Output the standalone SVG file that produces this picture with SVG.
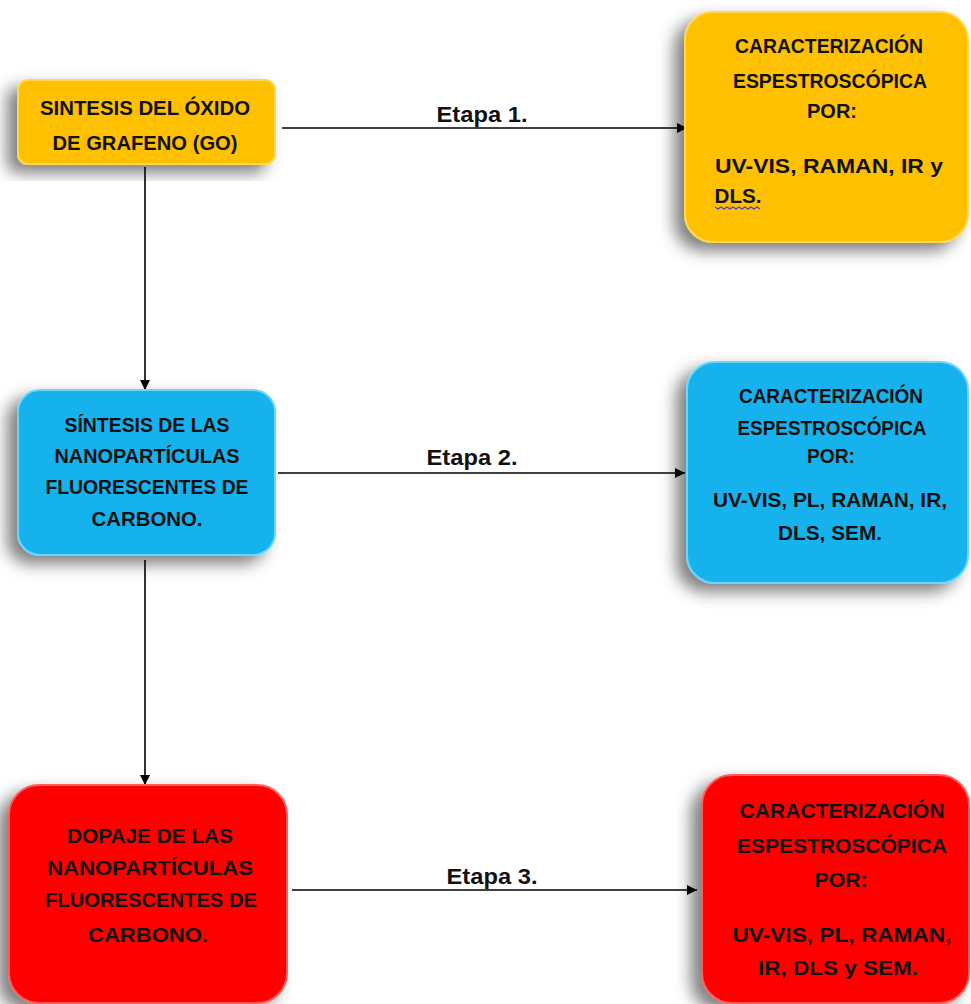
<svg xmlns="http://www.w3.org/2000/svg" width="971" height="1004" viewBox="0 0 971 1004">
<defs>
  <filter id="shadow" x="-20%" y="-20%" width="140%" height="140%">
    <feDropShadow dx="-10" dy="8" stdDeviation="8" flood-color="#000" flood-opacity="0.5"/>
  </filter>
  <marker id="arrow" viewBox="0 0 10 10" refX="10" refY="5" markerWidth="11" markerHeight="10" markerUnits="userSpaceOnUse" orient="auto">
    <path d="M0,0 L10,5 L0,10 Z" fill="#000"/>
  </marker>
  <style>
    .orange { fill: #FFC000; stroke: #FFD84D; stroke-width: 2; }
    .blue { fill: #12B2EE; stroke: #6AD6FF; stroke-width: 2; }
    .red { fill: #FF0000; stroke: #FF5C5C; stroke-width: 2; }
    .lbl { font-family: "Liberation Sans", Arial, sans-serif; font-weight: bold; fill: #111; text-anchor: middle; }
    .n { font-size: 21px; }
    .e { font-size: 22px; }
    .conn { stroke: #000; stroke-width: 1.6; fill: none; }
  </style>
</defs>
<rect width="971" height="1004" fill="#fff"/>

<g id="connectors">
  <line class="conn" x1="282" y1="128" x2="687" y2="128" marker-end="url(#arrow)"/>
  <line class="conn" x1="278" y1="473" x2="685" y2="473" marker-end="url(#arrow)"/>
  <line class="conn" x1="292" y1="890" x2="697" y2="890" marker-end="url(#arrow)"/>
  <line class="conn" x1="145" y1="167" x2="145" y2="390" marker-end="url(#arrow)"/>
  <line class="conn" x1="145" y1="560" x2="145" y2="785" marker-end="url(#arrow)"/>
  <text class="lbl e" x="482" y="122" textLength="91" lengthAdjust="spacingAndGlyphs">Etapa 1.</text>
  <text class="lbl e" x="472" y="465" textLength="91" lengthAdjust="spacingAndGlyphs">Etapa 2.</text>
  <text class="lbl e" x="492" y="884" textLength="91" lengthAdjust="spacingAndGlyphs">Etapa 3.</text>
</g>

<g id="node-sintesis-go">
  <rect class="orange" x="18" y="80" width="257" height="84" rx="10" filter="url(#shadow)"/>
  <text class="lbl n" x="145" y="115" textLength="210" lengthAdjust="spacingAndGlyphs">SINTESIS DEL ÓXIDO</text>
  <text class="lbl n" x="145" y="150" textLength="185" lengthAdjust="spacingAndGlyphs">DE GRAFENO (GO)</text>
</g>

<g id="node-caract-1">
  <rect class="orange" x="685" y="12" width="283" height="230" rx="28" filter="url(#shadow)"/>
  <text class="lbl n" x="829" y="53" textLength="188" lengthAdjust="spacingAndGlyphs">CARACTERIZACIÓN</text>
  <text class="lbl n" x="830" y="88" textLength="194" lengthAdjust="spacingAndGlyphs">ESPESTROSCÓPICA</text>
  <text class="lbl n" x="832" y="118" textLength="50" lengthAdjust="spacingAndGlyphs">POR:</text>
  <text class="lbl n" x="829" y="173" textLength="228" lengthAdjust="spacingAndGlyphs">UV-VIS,  RAMAN,  IR  y</text>
  <text class="lbl n" x="738" y="203" textLength="47" lengthAdjust="spacingAndGlyphs">DLS.</text>
  <path d="M715,207 l3,2 l3,-2 l3,2 l3,-2 l3,2 l3,-2 l3,2 l3,-2 l3,2 l3,-2 l3,2 l3,-2 l3,2 l3,-2 l3,2" fill="none" stroke="#4A3FD0" stroke-width="1.3"/>
</g>

<g id="node-sintesis-np">
  <rect class="blue" x="18" y="390" width="257" height="165" rx="22" filter="url(#shadow)"/>
  <text class="lbl n" x="147" y="432" textLength="165" lengthAdjust="spacingAndGlyphs">SÍNTESIS DE LAS</text>
  <text class="lbl n" x="147" y="463" textLength="185" lengthAdjust="spacingAndGlyphs">NANOPARTÍCULAS</text>
  <text class="lbl n" x="147" y="494" textLength="203" lengthAdjust="spacingAndGlyphs">FLUORESCENTES DE</text>
  <text class="lbl n" x="147" y="526" textLength="111" lengthAdjust="spacingAndGlyphs">CARBONO.</text>
</g>

<g id="node-caract-2">
  <rect class="blue" x="687" y="362" width="281" height="221" rx="28" filter="url(#shadow)"/>
  <text class="lbl n" x="831" y="403" textLength="184" lengthAdjust="spacingAndGlyphs">CARACTERIZACIÓN</text>
  <text class="lbl n" x="832" y="435" textLength="189" lengthAdjust="spacingAndGlyphs">ESPESTROSCÓPICA</text>
  <text class="lbl n" x="831" y="463" textLength="48" lengthAdjust="spacingAndGlyphs">POR:</text>
  <text class="lbl n" x="830" y="507" textLength="234" lengthAdjust="spacingAndGlyphs">UV-VIS, PL, RAMAN, IR,</text>
  <text class="lbl n" x="830" y="540" textLength="104" lengthAdjust="spacingAndGlyphs">DLS, SEM.</text>
</g>

<g id="node-dopaje">
  <rect class="red" x="9" y="785" width="278" height="218" rx="30" filter="url(#shadow)"/>
  <text class="lbl n" x="150" y="843" textLength="166" lengthAdjust="spacingAndGlyphs">DOPAJE DE LAS</text>
  <text class="lbl n" x="150" y="875" textLength="206" lengthAdjust="spacingAndGlyphs">NANOPARTÍCULAS</text>
  <text class="lbl n" x="151" y="907" textLength="212" lengthAdjust="spacingAndGlyphs">FLUORESCENTES DE</text>
  <text class="lbl n" x="148" y="942" textLength="120" lengthAdjust="spacingAndGlyphs">CARBONO.</text>
</g>

<g id="node-caract-3">
  <rect class="red" x="702" y="775" width="267" height="228" rx="30" filter="url(#shadow)"/>
  <text class="lbl n" x="842" y="818" textLength="205" lengthAdjust="spacingAndGlyphs">CARACTERIZACIÓN</text>
  <text class="lbl n" x="842" y="853" textLength="210" lengthAdjust="spacingAndGlyphs">ESPESTROSCÓPICA</text>
  <text class="lbl n" x="841" y="887" textLength="53" lengthAdjust="spacingAndGlyphs">POR:</text>
  <text class="lbl n" x="842" y="942" textLength="219" lengthAdjust="spacingAndGlyphs">UV-VIS, PL, RAMAN,</text>
  <text class="lbl n" x="838" y="975" textLength="160" lengthAdjust="spacingAndGlyphs">IR, DLS y SEM.</text>
</g>
</svg>
